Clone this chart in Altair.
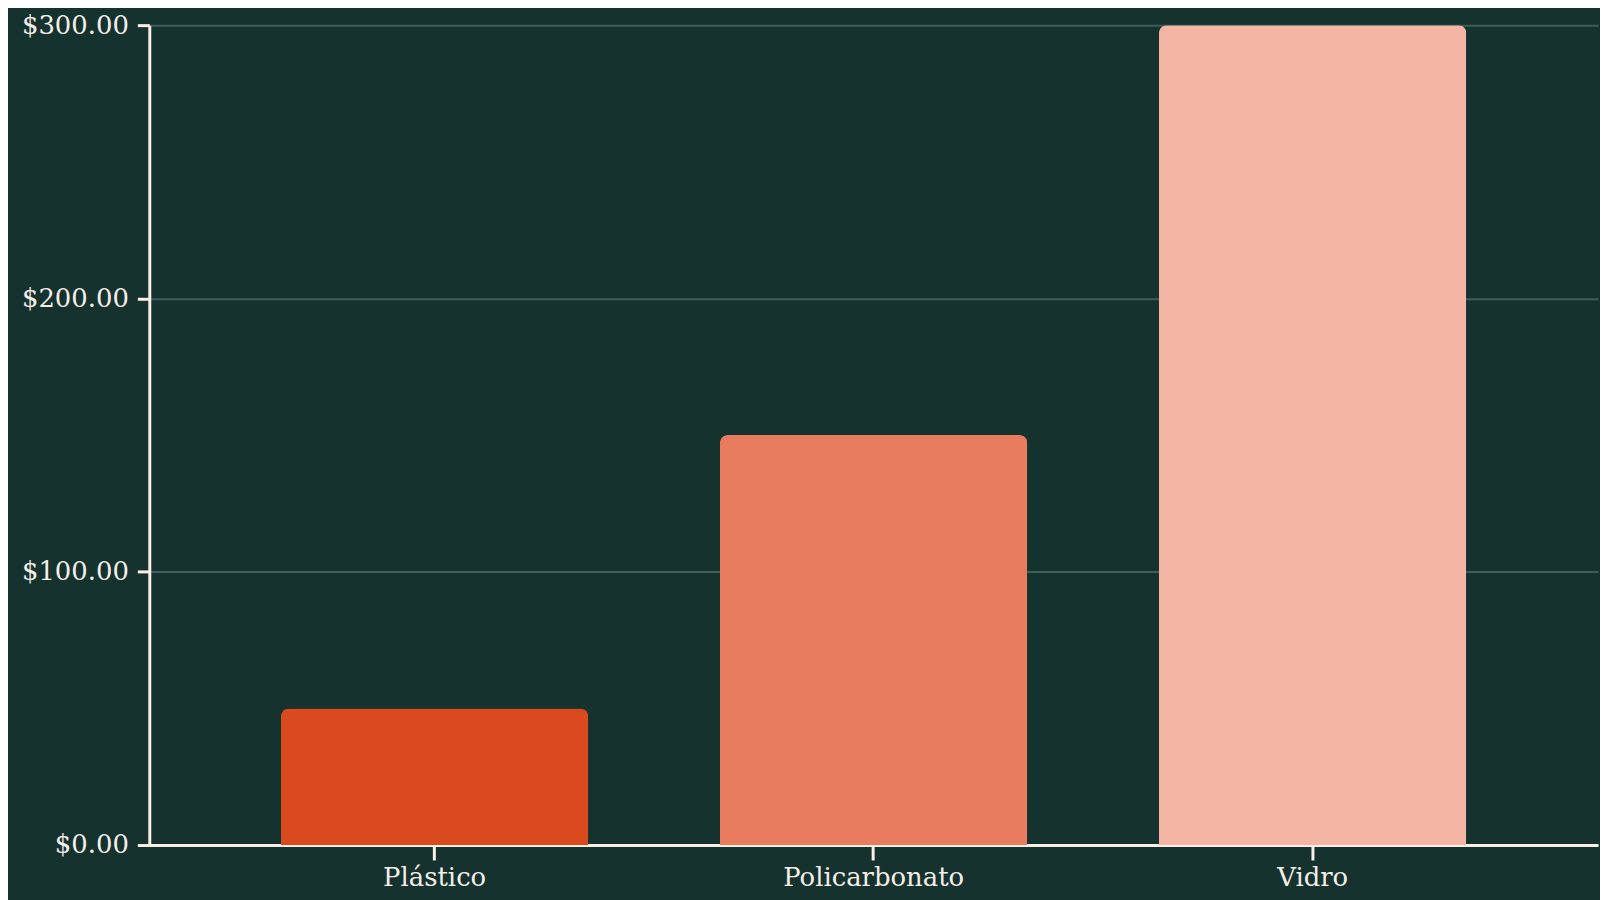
import altair as alt
import pandas as pd

materials = ["Plástico", "Policarbonato", "Vidro"]
prices = [50, 150, 300]
colors = ["#D94A1E", "#E97C5E", "#F4B5A4"]

df = pd.DataFrame({"material": materials, "price": prices})

chart = (
    alt.Chart(df)
    .mark_bar(cornerRadiusTopLeft=8, cornerRadiusTopRight=8)
    .encode(
        x=alt.X(
            "material:N",
            sort=materials,
            title=None,
            scale=alt.Scale(paddingInner=0.3, paddingOuter=0.3),
            axis=alt.Axis(labelAngle=0, grid=False, tickSize=15, tickWidth=3,
                          labelPadding=5, domainWidth=3, labelLimit=500),
        ),
        y=alt.Y(
            "price:Q",
            title=None,
            scale=alt.Scale(domain=[0, 300]),
            axis=alt.Axis(values=[0, 100, 200, 300], format="$.2f", tickSize=12,
                          tickWidth=3, labelPadding=9, domainWidth=3, labelLimit=500,
                          grid=True, gridColor="#3E5C59", gridWidth=2),
        ),
        color=alt.Color("material:N", sort=materials,
                        scale=alt.Scale(domain=materials, range=colors), legend=None),
    )
    .properties(
        width=1456,
        height=824,
        background="#15322F",
        padding={"left": 142, "top": 15, "right": 2, "bottom": 53},
        autosize=alt.AutoSizeParams(type="none"),
    )
    .configure_view(stroke=None)
    .configure_axis(
        labelFont="DejaVu Serif",
        labelFontSize=26,
        labelColor="#F3EEE8",
        domainColor="#FBF0E8",
        tickColor="#FBF0E8",
    )
)

chart.save("out.html", embed_options={"renderer": "svg", "actions": False})
